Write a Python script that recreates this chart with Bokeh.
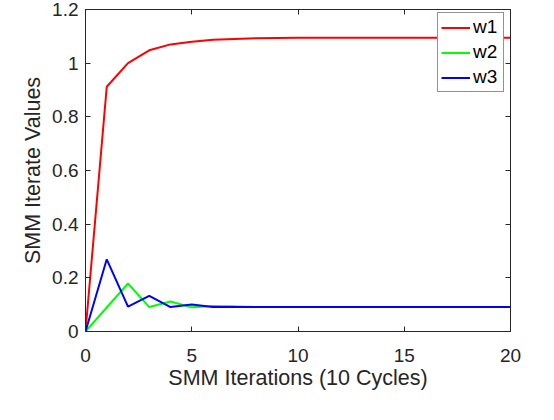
from bokeh.plotting import figure
from bokeh.models import LinearAxis, Range1d, Legend, LegendItem, FixedTicker, CustomJSTickFormatter
from bokeh.embed import file_html
from bokeh.resources import INLINE

# ---- data ----
iterations = list(range(0, 21))
w1 = [0, 0.912, 1.0, 1.048, 1.07, 1.08, 1.087, 1.09, 1.093, 1.094, 1.095,
      1.095, 1.095, 1.095, 1.095, 1.095, 1.095, 1.095, 1.095, 1.095, 1.095]
w2 = [0, 0.0895, 0.179, 0.091, 0.112, 0.090, 0.095, 0.092, 0.0915, 0.0915, 0.0915,
      0.0915, 0.0915, 0.0915, 0.0915, 0.0915, 0.0915, 0.0915, 0.0915, 0.0915, 0.0915]
w3 = [0, 0.269, 0.0926, 0.133, 0.091, 0.101, 0.091, 0.092, 0.0915, 0.0915, 0.0915,
      0.0915, 0.0915, 0.0915, 0.0915, 0.0915, 0.0915, 0.0915, 0.0915, 0.0915, 0.0915]
series_names = ["w1", "w2", "w3"]
series_colors = ["#ff0000", "#00ff00", "#0000ff"]
x_ticks = [0, 5, 10, 15, 20]
y_ticks = [0, 0.2, 0.4, 0.6, 0.8, 1.0, 1.2]
x_label = "SMM Iterations (10 Cycles)"
y_label = "SMM Iterate Values"

FONT = "Liberation Sans"
AX = "#262626"

p = figure(frame_width=425, frame_height=322,
           x_range=Range1d(0, 20), y_range=Range1d(0, 1.2),
           output_backend="svg", toolbar_location=None,
           min_border_left=85, min_border_right=30,
           min_border_top=9, min_border_bottom=66)
p.background_fill_color = "white"
p.border_fill_color = "white"
p.xgrid.visible = False
p.ygrid.visible = False
p.outline_line_color = AX
p.outline_line_width = 1

renderers = []
for name, ys, c in zip(series_names, [w1, w2, w3], series_colors):
    r = p.line(iterations, ys, line_color=c, line_width=2)
    renderers.append(r)

def style_axis(ax, show_labels=True):
    ax.axis_line_color = AX
    ax.major_tick_line_color = AX
    ax.major_tick_in = 5
    ax.major_tick_out = 0
    ax.minor_tick_line_color = None
    ax.major_label_text_color = AX
    ax.major_label_text_font = FONT
    ax.axis_label_text_font = FONT
    ax.axis_label_text_color = AX
    ax.axis_label_text_font_style = "normal"
    if not show_labels:
        ax.formatter = CustomJSTickFormatter(code="return '';")
        ax.major_label_standoff = 0

xa = p.xaxis[0]
ya = p.yaxis[0]
xa.ticker = FixedTicker(ticks=x_ticks)
ya.ticker = FixedTicker(ticks=y_ticks)
xa.major_label_overrides = {0: "0", 5: "5", 10: "10", 15: "15", 20: "20"}
ya.major_label_overrides = {0: "0", 0.2: "0.2", 0.4: "0.4", 0.6: "0.6", 0.8: "0.8", 1.0: "1", 1.2: "1.2"}
style_axis(xa)
style_axis(ya)
xa.major_label_text_font_size = "19px"
ya.major_label_text_font_size = "19px"
xa.axis_label = x_label
ya.axis_label = y_label
xa.axis_label_text_font_size = "21.5px"
ya.axis_label_text_font_size = "21.5px"
xa.major_label_standoff = 17
ya.major_label_standoff = 7
xa.axis_label_standoff = 1
ya.axis_label_standoff = 4

top = LinearAxis(ticker=FixedTicker(ticks=x_ticks))
right = LinearAxis(ticker=FixedTicker(ticks=y_ticks))
style_axis(top, False)
style_axis(right, False)
p.add_layout(top, "above")
p.add_layout(right, "right")

legend = Legend(items=[LegendItem(label=n, renderers=[r]) for n, r in zip(series_names, renderers)],
                location=(352, 239))
legend.margin = 0
legend.padding = 3
legend.spacing = 3
legend.glyph_width = 29
legend.glyph_height = 17
legend.label_height = 17
legend.label_width = 27
legend.label_standoff = 3
legend.label_text_font = FONT
legend.label_text_font_size = "19px"
legend.label_text_color = "#000000"
legend.border_line_color = AX
legend.border_line_width = 1
legend.background_fill_color = "white"
legend.background_fill_alpha = 1
p.add_layout(legend, "center")

open("out.html", "w").write(file_html(p, INLINE))
